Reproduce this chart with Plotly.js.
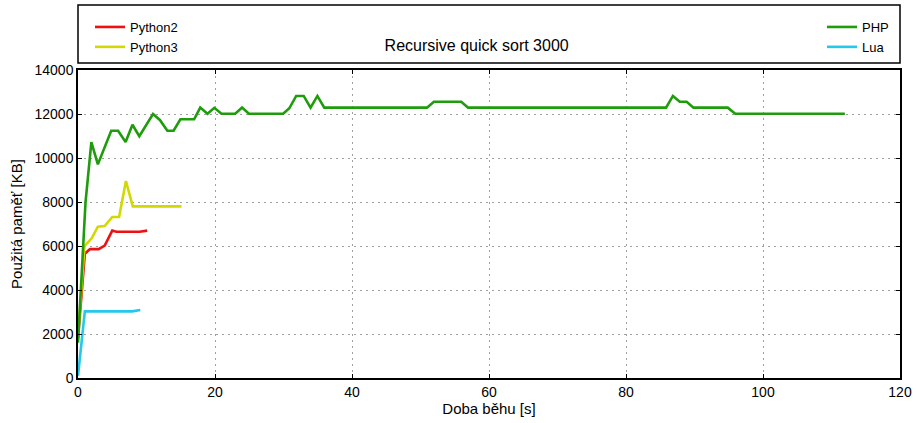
<!DOCTYPE html>
<html>
<head>
<meta charset="utf-8">
<script src="https://cdn.plot.ly/plotly-3.0.1.min.js"></script>
<style>html,body{margin:0;padding:0;background:#fff;}#chart{width:917px;height:423px;}</style>
</head>
<body>
<div id="chart"></div>
<script>
// ---- data ----
const seriesNames = ["Python2", "Python3", "PHP", "Lua"];

const python2Time = [0, 1.0, 1.75, 3.0, 3.9, 5.0, 5.6, 9.0, 10.1];
const python2Mem  = [1800, 5650, 5860, 5860, 6020, 6700, 6650, 6650, 6700];

const python3Time = [0, 0.95, 2.0, 2.9, 3.9, 5.0, 6.0, 7.0, 8.0, 15.1];
const python3Mem  = [1900, 6000, 6350, 6880, 6910, 7320, 7320, 8950, 7800, 7800];

const phpTime = [0, 1.1, 1.95, 2.9, 4.85, 5.85, 6.95, 7.95, 8.95, 10.95, 11.95, 13.05, 13.95, 14.95, 16.95,
                 17.85, 18.9, 19.9, 20.95, 22.95, 23.95, 24.95, 29.95, 30.85, 31.85, 32.95, 33.95, 34.95, 35.95,
                 50.95, 51.95, 55.95, 56.95, 85.85, 86.85, 87.85, 88.85, 89.85, 94.85, 95.95, 111.95];
const phpMem  = [1600, 8000, 10720, 9710, 11240, 11240, 10730, 11510, 10990, 12000, 11730, 11240, 11240, 11760, 11760,
                 12290, 12010, 12280, 12010, 12010, 12290, 12010, 12010, 12260, 12820, 12820, 12290, 12820, 12290,
                 12290, 12560, 12560, 12290, 12290, 12820, 12560, 12560, 12290, 12290, 12010, 12010];

const luaTime = [0, 1.0, 7.9, 9.1];
const luaMem  = [100, 3030, 3030, 3090];

const chartTitle = "Recursive quick sort 3000";
const xLabel = "Doba běhu [s]";
const yLabel = "Použitá paměť [KB]";
const xTicks = [0, 20, 40, 60, 80, 100, 120];
const xTickText = ["0", "20", "40", "60", "80", "100", "120"];
const yTicks = [0, 2000, 4000, 6000, 8000, 10000, 12000, 14000];
const yTickText = ["0", "2000", "4000", "6000", "8000", "10000", "12000", "14000"];

// ---- styles ----
const FONT = "Liberation Sans, Arial, Helvetica, sans-serif";
const colors = {Python2: "#ee1111", Python3: "#d2d800", PHP: "#1e9c0c", Lua: "#24c8ea"};

function line(name, x, y, legendId) {
  return {
    type: "scatter", mode: "lines", name: name, x: x, y: y,
    line: {color: colors[name], width: 2.6},
    legend: legendId, hoverinfo: "x+y+name"
  };
}

const traces = [
  line("Python2", python2Time, python2Mem, "legend"),
  line("Python3", python3Time, python3Mem, "legend"),
  line("PHP", phpTime, phpMem, "legend2"),
  line("Lua", luaTime, luaMem, "legend2")
];

const axisCommon = {
  showline: true, mirror: "ticks", linecolor: "#000", linewidth: 1.5,
  ticks: "inside", ticklen: 4, tickcolor: "#000", tickwidth: 1,
  showgrid: true, gridcolor: "#a0a0a0", griddash: "2px,4px", gridwidth: 1,
  zeroline: false, tickfont: {family: FONT, size: 14, color: "#000"}
};

const legendCommon = {
  xanchor: "left", yanchor: "top",
  bgcolor: "rgba(0,0,0,0)", borderwidth: 0, font: {family: FONT, size: 13, color: "#000"},
  itemwidth: 30, tracegroupgap: 0
};

const layout = {
  width: 917, height: 423,
  margin: {l: 78, r: 17, t: 70, b: 45, pad: 0},
  paper_bgcolor: "#fff", plot_bgcolor: "#fff",
  font: {family: FONT, color: "#000"},
  title: {
    text: chartTitle, font: {family: FONT, size: 16, color: "#000"},
    xref: "paper", x: 0.485, xanchor: "center",
    yref: "container", y: 1 - 45.5 / 423, yanchor: "middle"
  },
  xaxis: Object.assign({}, axisCommon, {
    range: [0, 120], tickmode: "array", tickvals: xTicks, ticktext: xTickText,
    title: {text: xLabel, font: {family: FONT, size: 15, color: "#000"}, standoff: 4}
  }),
  yaxis: Object.assign({}, axisCommon, {
    range: [0, 14000], tickmode: "array", tickvals: yTicks, ticktext: yTickText,
    title: {text: yLabel, font: {family: FONT, size: 15, color: "#000"}, standoff: 8}
  }),
  legend: Object.assign({}, legendCommon, {x: (90 - 78) / 822, y: (378 - 12) / 308}),
  legend2: Object.assign({}, legendCommon, {x: (822 - 78) / 822, y: (378 - 12) / 308}),
  shapes: [{
    type: "rect", xref: "paper", yref: "paper",
    x0: 0, x1: 1, y0: (378 - 63) / 308, y1: (378 - 5) / 308,
    line: {color: "#000", width: 1.5}, fillcolor: "rgba(0,0,0,0)", layer: "above"
  }],
  showlegend: true
};

Plotly.newPlot("chart", traces, layout, {displayModeBar: false, staticPlot: false});
</script>
</body>
</html>
